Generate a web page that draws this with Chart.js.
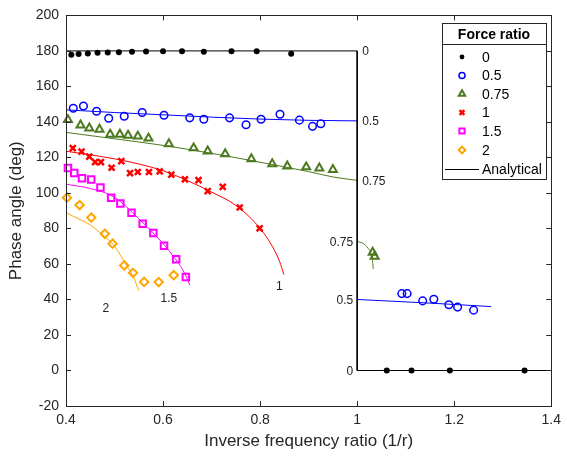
<!DOCTYPE html>
<html>
<head>
<meta charset="utf-8">
<script src="https://cdn.jsdelivr.net/npm/chart.js@4.4.1/dist/chart.umd.min.js"></script>
<style>
  html, body { margin: 0; padding: 0; background: #fff; }
  #wrap { width: 567px; height: 460px; position: relative; }
</style>
</head>
<body>
<div id="wrap"><canvas id="grafico"></canvas></div>
<script>
// legend entries / colours
const forceRatios = ['0', '0.5', '0.75', '1', '1.5', '2'];
const cores = ['#000000', '#0000ff', '#4d7a1e', '#ff0000', '#ff00ff', '#ffa500'];

const exp0X = [0.411, 0.426, 0.445, 0.465, 0.486, 0.509, 0.536, 0.565, 0.600, 0.639, 0.684, 0.741, 0.793, 0.864, 1.061, 1.112, 1.191, 1.345];
const exp0Y = [177.8, 178.2, 178.6, 178.9, 179.1, 179.3, 179.5, 179.6, 179.8, 179.8, 179.5, 179.8, 179.8, 178.4, 0, 0, 0, 0];
const exp05X = [0.415, 0.436, 0.463, 0.488, 0.520, 0.557, 0.602, 0.655, 0.684, 0.737, 0.771, 0.802, 0.841, 0.881, 0.908, 0.925, 1.092, 1.103, 1.135, 1.158, 1.189, 1.207, 1.240];
const exp05Y = [147.7, 149.0, 146.0, 142.1, 143.2, 145.3, 143.8, 142.3, 141.5, 142.3, 138.4, 141.5, 144.3, 141.0, 137.5, 139.0, 43.3, 43.3, 39.2, 40.1, 37.0, 35.7, 34.0];
const exp075X = [0.404, 0.430, 0.448, 0.469, 0.491, 0.511, 0.528, 0.548, 0.570, 0.612, 0.663, 0.692, 0.728, 0.782, 0.825, 0.856, 0.895, 0.922, 0.950, 1.032, 1.036];
const exp075Y = [141.2, 138.2, 136.5, 135.8, 133.0, 133.0, 132.4, 131.9, 130.8, 127.6, 125.3, 123.5, 122.0, 119.2, 116.4, 115.1, 114.6, 114.0, 113.1, 66.5, 64.3];
const exp1X = [0.414, 0.432, 0.448, 0.460, 0.472, 0.494, 0.514, 0.532, 0.548, 0.571, 0.593, 0.617, 0.645, 0.673, 0.692, 0.723, 0.758, 0.799];
const exp1Y = [125.2, 123.3, 120.5, 117.4, 117.4, 114.2, 117.9, 111.2, 111.8, 111.8, 112.2, 110.3, 107.7, 107.2, 101.0, 103.4, 91.8, 80.1];
const exp15X = [0.404, 0.417, 0.433, 0.452, 0.471, 0.493, 0.512, 0.535, 0.558, 0.580, 0.602, 0.627, 0.647];
const exp15Y = [114.0, 111.2, 108.3, 107.6, 103.0, 97.3, 94.1, 88.9, 82.6, 77.4, 70.3, 62.7, 52.7];
const exp2X = [0.402, 0.428, 0.452, 0.480, 0.496, 0.520, 0.538, 0.561, 0.591, 0.622];
const exp2Y = [97.3, 93.2, 86.1, 77.0, 71.4, 59.2, 55.0, 49.9, 49.8, 53.7];

// analytical curves
const ana0X = [0.4, 1.0, 1.0, 1.4];
const ana0Y = [180, 180, 0, 0];
const ana05X = [0.4, 0.5, 0.6, 0.7, 0.8, 0.9, 1.0];
const ana05Y = [146.8, 145.3, 144.0, 142.7, 141.6, 140.9, 140.6];
const ana05bX = [1.0, 1.14, 1.276];
const ana05bY = [40.0, 38.1, 36.0];
const ana075X = [0.4, 0.5, 0.6, 0.7, 0.8, 0.9, 0.95, 1.0];
const ana075Y = [134.1, 130.5, 126.8, 122.3, 117.3, 112.0, 109.0, 107.1];
const ana075bX = [1.0, 1.012, 1.022, 1.029, 1.032, 1.033];
const ana075bY = [72.7, 71.6, 69.0, 65.5, 61.0, 57.2];
const ana1X = [0.4, 0.45, 0.5, 0.55, 0.6, 0.65, 0.7, 0.75, 0.8, 0.825, 0.84, 0.849];
const ana1Y = [123.5, 121.5, 119.2, 116.3, 112.5, 107.0, 100.5, 93.0, 80.0, 70.0, 61.5, 54.0];
const ana15X = [0.4, 0.45, 0.5, 0.55, 0.6, 0.625, 0.64, 0.65, 0.655];
const ana15Y = [104.9, 102.5, 97.5, 85.5, 71.5, 63.0, 57.0, 51.5, 48.0];
const ana2X = [0.4, 0.425, 0.45, 0.475, 0.5, 0.525, 0.54, 0.55];
const ana2Y = [88.9, 85.5, 82.0, 76.5, 70.0, 59.0, 52.0, 45.0];

// curve labels (text, x, y, side)
const rotulos = [
  ['0', 1.0, 180, 'dir'], ['0.5', 1.0, 140.6, 'dir'], ['0.75', 1.0, 107.1, 'dir'],
  ['0.75', 1.0, 72.7, 'esq'], ['0.5', 1.0, 40.0, 'esq'], ['0', 1.0, 0, 'esq'],
  ['1', 0.8396, 47.6, 'cen'], ['1.5', 0.612, 41.0, 'cen'], ['2', 0.482, 35.1, 'cen']
];

const eixoCor = '#262626';
const fonte = '"Liberation Sans", Arial, Helvetica, sans-serif';

function pts(xs, ys) { return xs.map((x, i) => ({ x: x, y: ys[i] })); }

const estilos = [
  { pointStyle: 'circle', radius: 3, borderWidth: 0, fill: true },
  { pointStyle: 'circle', radius: 3.8, borderWidth: 1.5 },
  { pointStyle: 'triangle', radius: 4.6, borderWidth: 2 },
  { pointStyle: 'crossRot', radius: 4.2, borderWidth: 2.5 },
  { pointStyle: 'rect', radius: 4.6, borderWidth: 2 },
  { pointStyle: 'rectRot', radius: 4.2, borderWidth: 2 }
];

const expX = [exp0X, exp05X, exp075X, exp1X, exp15X, exp2X];
const expY = [exp0Y, exp05Y, exp075Y, exp1Y, exp15Y, exp2Y];

const datasets = [];
forceRatios.forEach((r, i) => {
  const e = estilos[i];
  datasets.push({
    label: r,
    data: pts(expX[i], expY[i]),
    showLine: false,
    pointStyle: e.pointStyle,
    pointRadius: e.radius,
    pointBorderWidth: e.borderWidth,
    pointBorderColor: cores[i],
    pointBackgroundColor: e.fill ? cores[i] : 'rgba(0,0,0,0)',
    clip: false,
    order: 0
  });
});

function linha(xs, ys, cor, tensao) {
  return {
    label: 'Analytical',
    data: pts(xs, ys),
    showLine: true,
    borderColor: cor,
    borderWidth: 1,
    pointRadius: 0,
    cubicInterpolationMode: tensao ? 'monotone' : 'default',
    tension: 0,
    order: 1
  };
}
datasets.push(linha(ana0X, ana0Y, cores[0], false));
datasets.push(linha(ana05X, ana05Y, cores[1], true));
datasets.push(linha(ana05bX, ana05bY, cores[1], true));
datasets.push(linha(ana075X, ana075Y, cores[2], true));
datasets.push(linha(ana075bX, ana075bY, cores[2], true));
datasets.push(linha(ana1X, ana1Y, cores[3], true));
datasets.push(linha(ana15X, ana15Y, cores[4], true));
datasets.push(linha(ana2X, ana2Y, cores[5], true));

const molduraPlugin = {
  id: 'moldura',
  afterDatasetsDraw(chart) {
    const { ctx, chartArea: a, scales: { x, y } } = chart;
    ctx.save();
    ctx.strokeStyle = eixoCor;
    ctx.lineWidth = 1;
    ctx.beginPath();
    x.ticks.forEach(t => {
      const px = Math.round(x.getPixelForValue(t.value)) + 0.5;
      ctx.moveTo(px, a.bottom); ctx.lineTo(px, a.bottom - 5);
      ctx.moveTo(px, a.top); ctx.lineTo(px, a.top + 5);
    });
    y.ticks.forEach(t => {
      const py = Math.round(y.getPixelForValue(t.value)) + 0.5;
      ctx.moveTo(a.left, py); ctx.lineTo(a.left + 5, py);
      ctx.moveTo(a.right, py); ctx.lineTo(a.right - 5, py);
    });
    ctx.stroke();
    ctx.strokeRect(Math.round(a.left) + 0.5, Math.round(a.top) + 0.5, Math.round(a.width), Math.round(a.height));

    // curve labels
    ctx.fillStyle = '#222';
    ctx.font = '12px ' + fonte;
    ctx.textBaseline = 'middle';
    rotulos.forEach(([txt, vx, vy, lado]) => {
      let px = x.getPixelForValue(vx);
      const py = y.getPixelForValue(vy) + 1;
      if (lado === 'dir') { ctx.textAlign = 'left'; px += 5; }
      else if (lado === 'esq') { ctx.textAlign = 'right'; px -= 4; }
      else ctx.textAlign = 'center';
      ctx.fillText(txt, px, py);
    });
    ctx.restore();
  },
  afterDraw(chart) {
    const ctx = chart.ctx;
    const bx = 442, by = 23, bw = 104, bh = 156;
    ctx.save();
    ctx.fillStyle = '#fff';
    ctx.fillRect(bx, by, bw, bh);
    ctx.strokeStyle = eixoCor;
    ctx.lineWidth = 1;
    ctx.strokeRect(bx + 0.5, by + 0.5, bw, bh);
    ctx.beginPath();
    ctx.moveTo(bx, 44.5); ctx.lineTo(bx + bw, 44.5);
    ctx.stroke();

    ctx.fillStyle = '#000';
    ctx.font = 'bold 14px ' + fonte;
    ctx.textAlign = 'center';
    ctx.textBaseline = 'middle';
    ctx.fillText('Force ratio', bx + bw / 2, 35);

    ctx.font = '14px ' + fonte;
    ctx.textAlign = 'left';
    const ys = [57, 75.5, 94, 112.5, 131, 150];
    forceRatios.forEach((r, i) => {
      const e = estilos[i];
      ctx.fillStyle = e.fill ? cores[i] : 'rgba(0,0,0,0)';
      ctx.strokeStyle = cores[i];
      ctx.lineWidth = e.borderWidth;
      Chart.helpers.drawPoint(ctx, {
        pointStyle: e.pointStyle,
        radius: e.radius * 0.8,
        borderWidth: e.borderWidth,
        rotation: 0
      }, 462, ys[i]);
      ctx.fillStyle = '#000';
      ctx.fillText(r, 482, ys[i] + 1);
    });
    ctx.strokeStyle = '#000';
    ctx.lineWidth = 1;
    ctx.beginPath();
    ctx.moveTo(445, 169.5); ctx.lineTo(479, 169.5);
    ctx.stroke();
    ctx.fillText('Analytical', 482, 170);
    ctx.restore();
  }
};

new Chart(document.getElementById('grafico').getContext('2d'), {
  type: 'scatter',
  data: { datasets: datasets },
  options: {
    responsive: true,
    maintainAspectRatio: false,
    animation: false,
    layout: { padding: { top: 12, right: 12, left: 0, bottom: 0 } },
    plugins: { legend: { display: false }, tooltip: { enabled: false } },
    scales: {
      x: {
        type: 'linear',
        min: 0.4, max: 1.4,
        afterFit(s) { s.height = 54; },
        grid: { display: false, drawTicks: false },
        border: { display: false },
        ticks: {
          stepSize: 0.2,
          color: eixoCor,
          padding: 6,
          font: { size: 14, family: fonte },
          callback: v => String(Number(v.toFixed(1)))
        },
        title: {
          display: true,
          text: 'Inverse frequency ratio (1/r)',
          color: eixoCor,
          font: { size: 17, family: fonte },
          padding: { top: 0, bottom: 8 }
        }
      },
      y: {
        min: -20, max: 200,
        afterFit(s) { s.width = 66; },
        grid: { display: false, drawTicks: false },
        border: { display: false },
        ticks: {
          stepSize: 20,
          color: eixoCor,
          padding: 7,
          font: { size: 14, family: fonte }
        },
        title: {
          display: true,
          text: 'Phase angle (deg)',
          color: eixoCor,
          font: { size: 17, family: fonte },
          padding: { top: 6, bottom: 0 }
        }
      }
    }
  },
  plugins: [molduraPlugin]
});
</script>
</body>
</html>
